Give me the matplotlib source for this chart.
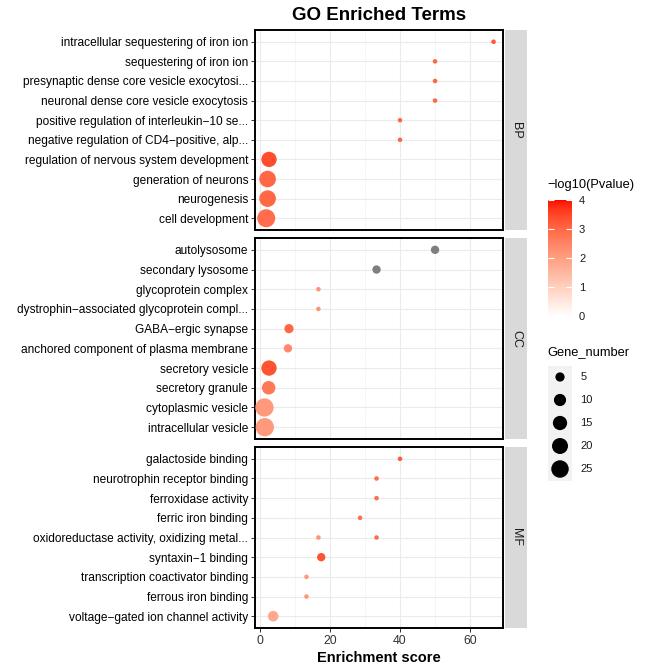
import numpy as np
import matplotlib
matplotlib.use("Agg")
import matplotlib.pyplot as plt
from matplotlib.colors import ListedColormap, Normalize
from matplotlib.cm import ScalarMappable

plt.rcParams['font.family'] = ['Liberation Sans', 'DejaVu Sans']

# ---- data ----
bp_terms = ["intracellular sequestering of iron ion", "sequestering of iron ion",
            "presynaptic dense core vesicle exocytosi...", "neuronal dense core vesicle exocytosis",
            "positive regulation of interleukin\u221210 se...", "negative regulation of CD4\u2212positive, alp...",
            "regulation of nervous system development", "generation of neurons",
            "neurogenesis", "cell development"]
bp_score = [66.7, 50, 50, 50, 40, 40, 2.6, 2.2, 2.2, 1.8]
bp_genes = [2, 2, 2, 2, 2, 2, 18, 22, 22, 27]
bp_logp = [3.2, 3.0, 3.0, 3.0, 3.0, 3.0, 3.4, 3.0, 3.0, 2.9]

cc_terms = ["autolysosome", "secondary lysosome", "glycoprotein complex",
            "dystrophin\u2212associated glycoprotein compl...", "GABA\u2212ergic synapse",
            "anchored component of plasma membrane", "secretory vesicle", "secretory granule",
            "cytoplasmic vesicle", "intracellular vesicle"]
cc_score = [50, 33.3, 16.7, 16.7, 8.3, 8.0, 2.6, 2.5, 1.3, 1.4]
cc_genes = [4, 4, 2, 2, 5, 4, 18, 13, 28, 28]
cc_logp = [np.nan, np.nan, 2.2, 2.2, 3.0, 2.4, 3.3, 2.7, 2.1, 2.1]

mf_terms = ["galactoside binding", "neurotrophin receptor binding", "ferroxidase activity",
            "ferric iron binding", "oxidoreductase activity, oxidizing metal...",
            "oxidoreductase activity, oxidizing metal...", "syntaxin\u22121 binding",
            "transcription coactivator binding", "ferrous iron binding",
            "voltage\u2212gated ion channel activity"]
mf_score = [40, 33.3, 33.3, 28.6, 16.7, 33.3, 17.5, 13.3, 13.3, 3.8]
mf_genes = [2, 2, 2, 2, 2, 2, 4, 2, 2, 7]
mf_logp = [3.2, 2.9, 2.9, 2.9, 2.2, 2.9, 3.3, 2.1, 2.1, 1.8]

size_breaks = [5, 10, 15, 20, 25]
color_breaks = [0, 1, 2, 3, 4]

W, H = 660, 670
fig = plt.figure(figsize=(W / 100, H / 100), dpi=100)


def px_axes(x0, y0, x1, y1):
    return fig.add_axes([x0 / W, 1 - y1 / H, (x1 - x0) / W, (y1 - y0) / H])


# white -> red gradient interpolated in Lab, like ggplot
def srgb_to_lab(c):
    c = np.asarray(c, float)
    lin = np.where(c <= 0.04045, c / 12.92, ((c + 0.055) / 1.055) ** 2.4)
    M = np.array([[0.4124, 0.3576, 0.1805], [0.2126, 0.7152, 0.0722], [0.0193, 0.1192, 0.9505]])
    xyz = M @ lin / np.array([0.95047, 1.0, 1.08883])
    f = np.where(xyz > 0.008856, np.cbrt(xyz), 7.787 * xyz + 16 / 116)
    return np.array([116 * f[1] - 16, 500 * (f[0] - f[1]), 200 * (f[1] - f[2])])


def lab_to_srgb(lab):
    L, a, b = lab
    fy = (L + 16) / 116
    f = np.array([fy + a / 500, fy, fy - b / 200])
    xyz = np.where(f ** 3 > 0.008856, f ** 3, (f - 16 / 116) / 7.787) * np.array([0.95047, 1.0, 1.08883])
    Minv = np.array([[3.2406, -1.5372, -0.4986], [-0.9689, 1.8758, 0.0415], [0.0557, -0.2040, 1.0570]])
    lin = np.clip(Minv @ xyz, 0, 1)
    return np.where(lin <= 0.0031308, 12.92 * lin, 1.055 * lin ** (1 / 2.4) - 0.055)


lo, hi = srgb_to_lab([1, 1, 1]), srgb_to_lab([1, 0, 0])
cmap = ListedColormap([lab_to_srgb(lo + t * (hi - lo)) for t in np.linspace(0, 1, 256)])
cmap.set_bad('#7f7f7f')
norm = Normalize(0, 4)

all_genes = bp_genes + cc_genes + mf_genes
gmin, gmax = min(all_genes), max(all_genes)


def marker_area(g):
    # ggplot-like area scale, plus a small stroke offset
    g = np.asarray(g, float)
    d_px = 1.8 + 2.75 * (1 + 5 * np.sqrt((g - gmin) / (gmax - gmin)))
    return (d_px * 0.72) ** 2


panels = [("BP", bp_terms, bp_score, bp_genes, bp_logp, 30, 230),
          ("CC", cc_terms, cc_score, cc_genes, cc_logp, 238, 439),
          ("MF", mf_terms, mf_score, mf_genes, mf_logp, 447, 628)]

for i, (name, terms, score, genes, logp, top, bot) in enumerate(panels):
    rows = list(dict.fromkeys(terms))
    ypos = [rows.index(t) for t in terms]
    ax = px_axes(255, top, 503, bot)
    ax.set_axisbelow(True)
    ax.scatter(score, ypos, s=marker_area(genes), c=np.ma.masked_invalid(logp),
               cmap=cmap, norm=norm, plotnonfinite=True, linewidths=0, zorder=3)
    ax.set_xlim(-1.4, 69.4)
    ax.set_ylim(len(rows) - 0.4, -0.6)
    ax.set_yticks(range(len(rows)))
    ax.set_yticklabels(rows, fontsize=8.6, color='black')
    ax.set_xticks([0, 20, 40, 60])
    ax.set_xticks([10, 30, 50], minor=True)
    ax.grid(True, which='major', color='#EBEBEB', lw=0.8)
    ax.grid(True, which='minor', axis='x', color='#F2F2F2', lw=0.5)
    ax.tick_params(axis='both', which='major', length=3, width=0.7, color='#333333', pad=2)
    ax.tick_params(axis='x', which='minor', length=0)
    if i < 2:
        ax.tick_params(axis='x', which='major', length=0, labelbottom=False)
    else:
        ax.tick_params(axis='x', labelsize=8.8, labelcolor='#333333')
        ax.set_xlabel("Enrichment score", fontsize=10.5, fontweight='bold', labelpad=3)
    for sp in ax.spines.values():
        sp.set_linewidth(1.4)
        sp.set_color('black')
    if i == 0:
        ax.set_title("GO Enriched Terms", fontsize=13.5, fontweight='bold', pad=7)

    sax = px_axes(505, top, 527, bot)
    sax.set_facecolor('#D9D9D9')
    sax.set_xticks([])
    sax.set_yticks([])
    for sp in sax.spines.values():
        sp.set_visible(False)
    sax.text(0.5, 0.5, name, rotation=-90, ha='center', va='center',
             fontsize=9, color='#1A1A1A', transform=sax.transAxes)

# colour legend
fig.text(547 / W, 1 - 185 / H, "\u2212log10(Pvalue)", fontsize=9.3, va='center', ha='left')
cax = px_axes(548, 200, 572, 316)
cb = fig.colorbar(ScalarMappable(norm=norm, cmap=cmap), cax=cax)
cb.outline.set_visible(False)
cb.set_ticks(color_breaks)
cax.yaxis.set_ticks_position('both')
cax.tick_params(axis='y', direction='in', color='white', length=4.5, width=0.8,
                labelsize=8, labelcolor='#1A1A1A', labelleft=False, labelright=True, pad=5)

# size legend
fig.text(547 / W, 1 - 352 / H, "Gene_number", fontsize=9.3, va='center', ha='left')
lax = px_axes(548, 365.5, 572, 480.5)
lax.set_facecolor('#F2F2F2')
lax.scatter([0.5] * len(size_breaks), np.arange(len(size_breaks)) + 0.5,
            s=marker_area(size_breaks), color='black', linewidths=0)
lax.set_xlim(0, 1)
lax.set_ylim(len(size_breaks), 0)
lax.set_xticks([])
lax.set_yticks([])
for sp in lax.spines.values():
    sp.set_visible(False)
for k, b in enumerate(size_breaks):
    lax.text(1.35, k + 0.5, str(b), fontsize=8, va='center', ha='left', color='#1A1A1A',
             transform=lax.get_yaxis_transform())

fig.savefig("out.png", dpi=100)
